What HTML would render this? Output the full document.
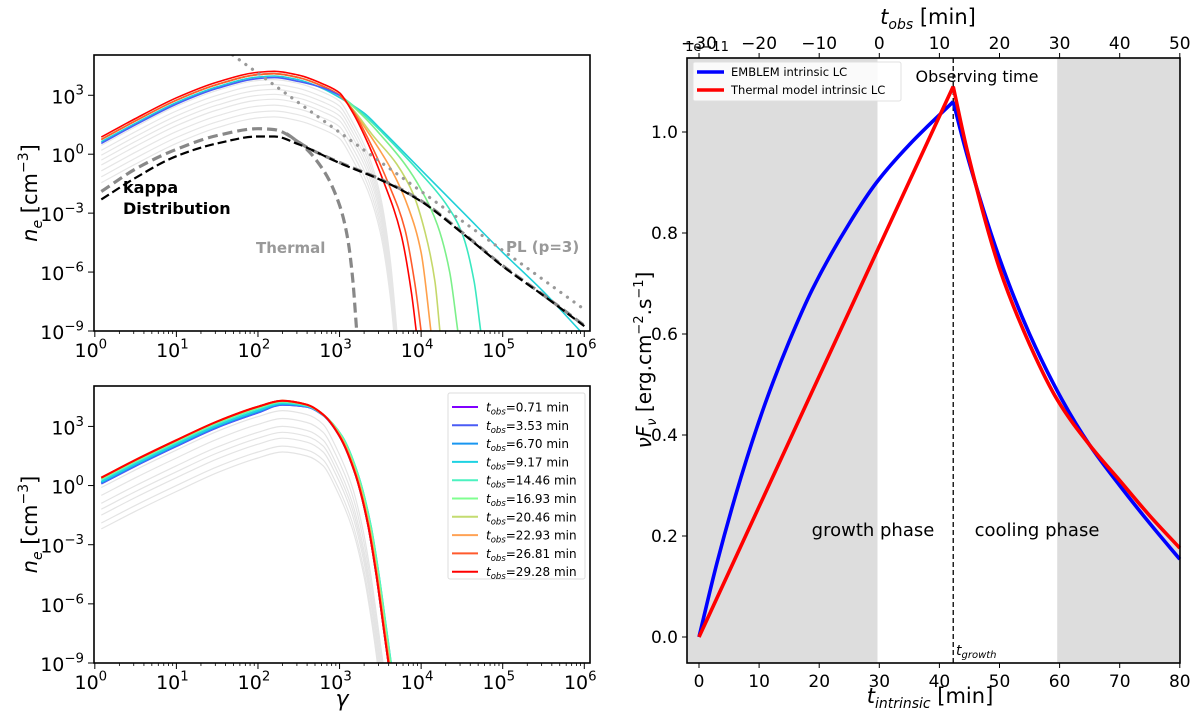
<!DOCTYPE html>
<html><head><meta charset="utf-8"><style>
html,body{margin:0;padding:0;background:#fff;}
svg{display:block;font-family:"DejaVu Sans","Liberation Sans",sans-serif;}
</style></head><body>
<svg id="fig" width="1200" height="726" viewBox="0 0 1200 726" xmlns="http://www.w3.org/2000/svg"></svg>
<script>
// ---------- DATA ----------
// Top-left panel: [log10(gamma), log10(n_e)]
const topCommon = [[0.08,0.75],[0.5,1.7],[1,2.75],[1.5,3.55],[2,4.05],[2.2,4.1],[2.5,3.9],[2.8,3.45],[3,3.0]];
const topTails = [
  [[3.3,2.1],[3.5,1.3],[4,-0.8],[4.5,-2.9],[5,-5.0],[5.5,-7.0],[5.95,-9]],
  [[3.3,2.0],[3.5,1.2],[4,-1.0],[4.3,-2.5],[4.5,-4.0],[4.65,-6.5],[4.73,-9]],
  [[3.3,1.9],[3.5,1.0],[3.8,-0.5],[4.0,-1.8],[4.2,-3.6],[4.35,-6],[4.45,-9]],
  [[3.2,2.1],[3.4,1.0],[3.7,-0.5],[3.9,-2],[4.05,-4],[4.17,-6.5],[4.23,-9]],
  [[3.2,2.0],[3.4,0.8],[3.65,-0.9],[3.85,-2.8],[4.0,-5],[4.12,-9]],
  [[3.15,2.3],[3.3,1.2],[3.6,-1.5],[3.8,-3.8],[3.92,-6.5],[4.0,-9]],
  [[3.15,2.2],[3.3,1.0],[3.55,-1.5],[3.75,-4],[3.88,-7],[3.94,-9]]
];
const topTailColors = ["#1fd0d8","#3ae8c0","#7cf08a","#c5d86a","#ffa04a","#ff5a2a","#ff0000"];
const topGrayOffsets = [-0.3,-0.55,-0.8,-1.05,-1.3,-1.6,-1.9,-2.2];
const topGrayTail = [[3.15,2.0],[3.35,0.3],[3.5,-1.8],[3.62,-5.0],[3.72,-9.5]];
const thermalDash = [[0.08,-1.9],[0.5,-0.75],[1,0.25],[1.5,0.95],[2,1.3],[2.2,1.25],[2.5,0.6],[2.8,-0.8],[3,-2.6],[3.1,-4.3],[3.16,-6.3],[3.21,-9]];
const kappaDash = [[0.08,-2.3],[0.5,-1.2],[1,-0.1],[1.5,0.55],[2,0.9],[2.2,0.9],[2.5,0.5],[3,-0.45],[3.5,-1.3],[4,-2.4],[4.5,-4.0],[5,-5.7],[5.5,-7.2],[6,-8.75]];
const kappaGrayDash = [[2.35,1.05],[2.6,0.35],[3,-0.42],[3.5,-1.27],[4,-2.37],[4.5,-3.97],[5,-5.67],[5.5,-7.17],[6,-8.72]];
const plDotted = [[1.69,5.05],[6,-7.9]];
// Bottom-left panel
const botBase = [[0.08,0.4],[0.5,1.3],[1,2.3],[1.5,3.25],[2,4.0],[2.3,4.3],[2.6,4.1],[2.8,3.6],[3,2.5],[3.2,0.5],[3.35,-2],[3.45,-4.5],[3.55,-7.5],[3.6,-9]];
const botNames = ["0.71","3.53","6.70","9.17","14.46","16.93","20.46","22.93","26.81","29.28"];
const botColors = ["#8000ff","#4a5cf5","#1996f0","#1ed2e2","#4cf2c0","#80ff90","#c4dc70","#ffa255","#ff5a2d","#ff0000"];
const botShift = [-0.3,-0.3,-0.25,-0.2,-0.1,-0.05,0,0,0,0];
const botXShift = [0.0,0.0,0.0,0.03,0.03,0.02,0.01,0.01,0.0,0.0];
const botGrayOffsets = [-0.5,-0.9,-1.3,-1.6,-1.9,-2.3,-2.6];
// Right panel light curves
const blueT = [0,3,7,11,15,18.8,25,29.6,35,42.3,44.6,50,55,60.4,65,70,75,80];
const blueV = [0,0.147,0.317,0.462,0.585,0.687,0.819,0.901,0.975,1.06,0.955,0.75,0.6,0.47,0.38,0.30,0.225,0.154];
const redT = [0,18.2,42.3,44.5,50,55,59.6,65,70,75,80];
const redV = [0,0.47,1.09,0.97,0.73,0.58,0.47,0.38,0.31,0.24,0.176];
const rightYTicks = [0.0,0.2,0.4,0.6,0.8,1.0];
const rightXTicks = [0,10,20,30,40,50,60,70,80];
const topXTicks = [-30,-20,-10,0,10,20,30,40,50];
const logTicks = [0,1,2,3,4,5,6];
const logYTicks = [3,0,-3,-6,-9];

// ---------- helpers ----------
const NS="http://www.w3.org/2000/svg";
const svg=document.getElementById('fig');
function el(tag,attrs,parent){const e=document.createElementNS(NS,tag);for(const k in attrs)e.setAttribute(k,attrs[k]);(parent||svg).appendChild(e);return e;}
function txt(x,y,s,size,anchor,parent,extra){const t=el('text',Object.assign({x:x,y:y,'font-size':size,'text-anchor':anchor||'middle',fill:'#000'},extra||{}),parent);t.textContent=s;return t;}
function pow10(x,y,e,size,anchor,parent){
  const t=el('text',{x:x,y:y,'font-size':size,'text-anchor':anchor,fill:'#000'},parent);
  const a=document.createElementNS(NS,'tspan');a.textContent='10';t.appendChild(a);
  const b=document.createElementNS(NS,'tspan');b.setAttribute('dy',-size*0.45);b.setAttribute('font-size',size*0.7);b.textContent=(e<0?'\u2212'+(-e):String(e));t.appendChild(b);
  return t;
}
function logPanel(name,X0,X1,Y0,Y1){
  const g=el('g',{},svg);
  
  
  const xmin=-0.01,xmax=6.07,ymin=-9,ymax=5.05;
  const sx=v=>X0+(v-xmin)/(xmax-xmin)*(X1-X0);
  const sy=v=>Y1-(v-ymin)/(ymax-ymin)*(Y1-Y0);
  const cid='clip'+name;
  const cp=el('clipPath',{id:cid},g);el('rect',{x:X0,y:Y0,width:X1-X0,height:Y1-Y0},cp);
  const plot=el('g',{'clip-path':'url(#'+cid+')'},g);
  return {g,plot,sx,sy,X0,X1,Y0,Y1};
}
function pathOf(pts,sx,sy){return pts.map((p,i)=>(i?'L':'M')+sx(p[0]).toFixed(1)+','+sy(p[1]).toFixed(1)).join(' ');}
// monotone cubic (Fritsch-Carlson) in pixel space
function smooth(pts,sx,sy){
  const P=pts.map(p=>[sx(p[0]),sy(p[1])]);const n=P.length;
  if(n<3)return pathOf(pts,sx,sy);
  const d=[],m=[];
  for(let i=0;i<n-1;i++)d.push((P[i+1][1]-P[i][1])/(P[i+1][0]-P[i][0]));
  m[0]=d[0];m[n-1]=d[n-2];
  for(let i=1;i<n-1;i++){if(d[i-1]*d[i]<=0)m[i]=0;else{const h0=P[i][0]-P[i-1][0],h1=P[i+1][0]-P[i][0];const w1=2*h1+h0,w2=h1+2*h0;m[i]=(w1+w2)/(w1/d[i-1]+w2/d[i]);}}
  let s='M'+P[0][0].toFixed(1)+','+P[0][1].toFixed(1);
  for(let i=0;i<n-1;i++){const h=(P[i+1][0]-P[i][0])/3;
    s+=' C'+(P[i][0]+h).toFixed(1)+','+(P[i][1]+m[i]*h).toFixed(1)+' '+(P[i+1][0]-h).toFixed(1)+','+(P[i+1][1]-m[i+1]*h).toFixed(1)+' '+P[i+1][0].toFixed(1)+','+P[i+1][1].toFixed(1);}
  return s;}
function logAxes(P){
  const {g,sx,sy,X0,X1,Y0,Y1}=P;
  el('rect',{x:X0,y:Y0,width:X1-X0,height:Y1-Y0,fill:'none',stroke:'#000','stroke-width':1.6},g);
  logTicks.forEach(d=>{const x=sx(d);el('line',{x1:x,x2:x,y1:Y1,y2:Y1+6,stroke:'#000','stroke-width':1},g);
    const t=pow10(x-4,Y1+26,d,19,'middle',g);
    for(let k=2;k<10&&d<6;k++){const xx=sx(d+Math.log10(k));el('line',{x1:xx,x2:xx,y1:Y1,y2:Y1+3,stroke:'#000','stroke-width':0.8},g);}});
  logYTicks.forEach(d=>{const y=sy(d);el('line',{x1:X0-6,x2:X0,y1:y,y2:y,stroke:'#000','stroke-width':1},g);
    const t=pow10(X0-10,y+8,d,19,'end',g);});
  const yl=el('text',{x:0,y:0,'font-size':21,'text-anchor':'middle',transform:'translate(37,'+((Y0+Y1)/2)+') rotate(-90)'},g);
  
  yl.innerHTML='<tspan font-style="italic">n</tspan><tspan font-style="italic" font-size="14" dy="5">e</tspan><tspan dy="-5"> [cm</tspan><tspan font-size="14" dy="-9">\u22123</tspan><tspan dy="9">]</tspan>';
}

// ---------- top-left ----------
const T=logPanel('kappa-panel',94,590,55,331);
topGrayOffsets.forEach((o)=>{
  const pts=topCommon.map(p=>[p[0],p[1]+o]).concat(topGrayTail.map(p=>[p[0],p[1]+o]));
  const p=el('path',{d:smooth(pts,T.sx,T.sy),fill:'none',stroke:'#e6e6e6','stroke-width':1.2},T.plot);
  
});
topTails.forEach((tail,i)=>{
  const pts=topCommon.map(p=>[p[0],i===6?p[1]+0.12:(i===0?p[1]-0.12:p[1])]).concat(tail);
  const p=el('path',{d:smooth(pts,T.sx,T.sy),fill:'none',stroke:topTailColors[i],'stroke-width':1.6},T.plot);
  
});
{const pts=topCommon.map(p=>[p[0],p[1]-0.2*(p[0]<2.5?1:(3-p[0])/0.5)]);
 const p=el('path',{d:smooth(pts,T.sx,T.sy),fill:'none',stroke:'#4a5cf5','stroke-width':1.6},T.plot);
 }
{const p=el('path',{d:smooth(thermalDash,T.sx,T.sy),fill:'none',stroke:'#888','stroke-width':3.2,'stroke-dasharray':'10,5'},T.plot);
 
 const q=el('path',{d:smooth(kappaGrayDash,T.sx,T.sy),fill:'none',stroke:'#888','stroke-width':3.2,'stroke-dasharray':'10,5'},T.plot);
 
 const r=el('path',{d:smooth(kappaDash,T.sx,T.sy),fill:'none',stroke:'#000','stroke-width':2.2,'stroke-dasharray':'9,4'},T.plot);
 
 const s=el('path',{d:pathOf(plDotted,T.sx,T.sy),fill:'none',stroke:'#999','stroke-width':3.2,'stroke-dasharray':'0.1,8','stroke-linecap':'round'},T.plot);
 }
logAxes(T);
{let a=txt(123,193,'kappa',16,'start',T.g,{'font-weight':'bold'});
 a=txt(123,214,'Distribution',16,'start',T.g,{'font-weight':'bold'});
 a=txt(256,253,'Thermal',15,'start',T.g,{'font-weight':'bold',fill:'#999'});
 a=txt(506,252,'PL (p=3)',15,'start',T.g,{'font-weight':'bold',fill:'#999'});}

// ---------- bottom-left ----------
const B=logPanel('thermal-panel',94,590,386,663);
botGrayOffsets.forEach(o=>{
  const pts=botBase.map(p=>[p[0]-(p[0]>=3?0.05:0),p[1]+o]);
  const p=el('path',{d:smooth(pts,B.sx,B.sy),fill:'none',stroke:'#e4e4e4','stroke-width':1.2},B.plot);
  
});
botColors.forEach((c,i)=>{
  const pts=botBase.map(p=>[p[0]+(p[0]>=3?botXShift[i]:0),p[1]+botShift[i]*(p[0]<2.0?1:Math.max(0,(2.9-p[0])/0.9))]);
  const p=el('path',{d:smooth(pts,B.sx,B.sy),fill:'none',stroke:c,'stroke-width':2},B.plot);
  
});
logAxes(B);
{const t=txt(342,706,'\u03b3',22,'middle',B.g,{'font-style':'italic'});}
{const lg=el('g',{},B.g);
 el('rect',{x:448,y:393,width:137,height:186,fill:'#fff',stroke:'#ddd','stroke-width':1,rx:2},lg);
 botNames.forEach((n,i)=>{const y=407+i*18.3;
  const l=el('line',{x1:452,x2:478,y1:y,y2:y,stroke:botColors[i],'stroke-width':2},lg);
  
  const t=el('text',{x:486,y:y+4.5,'font-size':12},lg);
  t.innerHTML='<tspan font-style="italic">t</tspan><tspan font-style="italic" font-size="8.5" dy="3">obs</tspan><tspan dy="-3">='+n+' min</tspan>';});}

// ---------- right panel ----------
const R=el('g',{});
const RX0=687,RX1=1180,RY0=58,RY1=663;
const rx=t=>699+t*6.01, ry=v=>637-v*505;
{const a=el('rect',{x:RX0,y:RY0,width:rx(29.7)-RX0,height:RY1-RY0,fill:'#dddddd'},R);
 const b=el('rect',{x:rx(59.6),y:RY0,width:RX1-rx(59.6),height:RY1-RY0,fill:'#dddddd'},R);}
{const l=el('line',{x1:rx(42.3),x2:rx(42.3),y1:RY0,y2:RY1,stroke:'#000','stroke-width':1.3,'stroke-dasharray':'5,3'},R);}
function lc(T_,V_,color,name){const pts=T_.map((t,i)=>[t,V_[i]]);
  const p=el('path',{d:smooth(pts,rx,ry),fill:'none',stroke:color,'stroke-width':3.6,'stroke-linejoin':'round'},R);}
const bi=blueT.indexOf(42.3), ri=redT.indexOf(42.3);
lc(blueT.slice(0,bi+1),blueV.slice(0,bi+1),'#0000ff','emblem-growth-line');
lc(blueT.slice(bi),blueV.slice(bi),'#0000ff','emblem-decay-line');
lc(redT.slice(0,ri+1),redV.slice(0,ri+1),'#ff0000','thermal-growth-line');
lc(redT.slice(ri),redV.slice(ri),'#ff0000','thermal-decay-line');
el('rect',{x:RX0,y:RY0,width:RX1-RX0,height:RY1-RY0,fill:'none',stroke:'#000','stroke-width':1.6},R);
rightXTicks.forEach(v=>{const x=rx(v);el('line',{x1:x,x2:x,y1:RY1,y2:RY1+5,stroke:'#000'},R);const t=txt(x,RY1+24,String(v),17,'middle',R);});
topXTicks.forEach(v=>{const x=rx(v+30);el('line',{x1:x,x2:x,y1:RY0,y2:RY0-5,stroke:'#000'},R);const t=txt(x,RY0-9,v<0?'\u2212'+(-v):String(v),17,'middle',R);});
rightYTicks.forEach(v=>{const y=ry(v);el('line',{x1:RX0-5,x2:RX0,y1:y,y2:y,stroke:'#000'},R);const t=txt(RX0-9,y+6,v.toFixed(1),17,'end',R);});
{const t=txt(707,51,'1e\u221211',13,'middle',R);}
{const t=el('text',{x:928,y:24,'font-size':21,'text-anchor':'middle'},R);
 t.innerHTML='<tspan font-style="italic">t</tspan><tspan font-style="italic" font-size="14" dy="5">obs</tspan><tspan dy="-5"> [min]</tspan>';}
{const t=el('text',{x:930,y:703,'font-size':21,'text-anchor':'middle'},R);
 t.innerHTML='<tspan font-style="italic">t</tspan><tspan font-style="italic" font-size="14" dy="5">intrinsic</tspan><tspan dy="-5"> [min]</tspan>';}
{const t=el('text',{x:0,y:0,'font-size':20,'text-anchor':'middle',transform:'translate(651,360) rotate(-90)'},R);
 t.innerHTML='<tspan font-style="italic">\u03bdF</tspan><tspan font-style="italic" font-size="13" dy="5">\u03bd</tspan><tspan dy="-5"> [erg.cm</tspan><tspan font-size="13" dy="-8">\u22122</tspan><tspan dy="8">.s</tspan><tspan font-size="13" dy="-8">\u22121</tspan><tspan dy="8">]</tspan>';}
{let t=txt(873,536,'growth phase',18,'middle',R);
 t=txt(1037,536,'cooling phase',18,'middle',R);
 t=txt(977,82,'Observing time',16,'middle',R);
 t=el('text',{x:956,y:655,'font-size':14},R);
 t.innerHTML='<tspan font-style="italic">t</tspan><tspan font-style="italic" font-size="10" dy="3">growth</tspan>';}
{const lg=el('g',{},R);
 el('rect',{x:693,y:62,width:208,height:39,fill:'#fff','fill-opacity':0.85,stroke:'#e0e0e0',rx:2},lg);
 let l=el('line',{x1:697,x2:724,y1:72,y2:72,stroke:'#0000ff','stroke-width':3.6},lg);
 l=el('line',{x1:697,x2:724,y1:90,y2:90,stroke:'#ff0000','stroke-width':3.6},lg);
 let t=txt(731,76,'EMBLEM intrinsic LC',11.5,'start',lg);
 t=txt(731,94,'Thermal model intrinsic LC',11.5,'start',lg);}
</script>
</body></html>
